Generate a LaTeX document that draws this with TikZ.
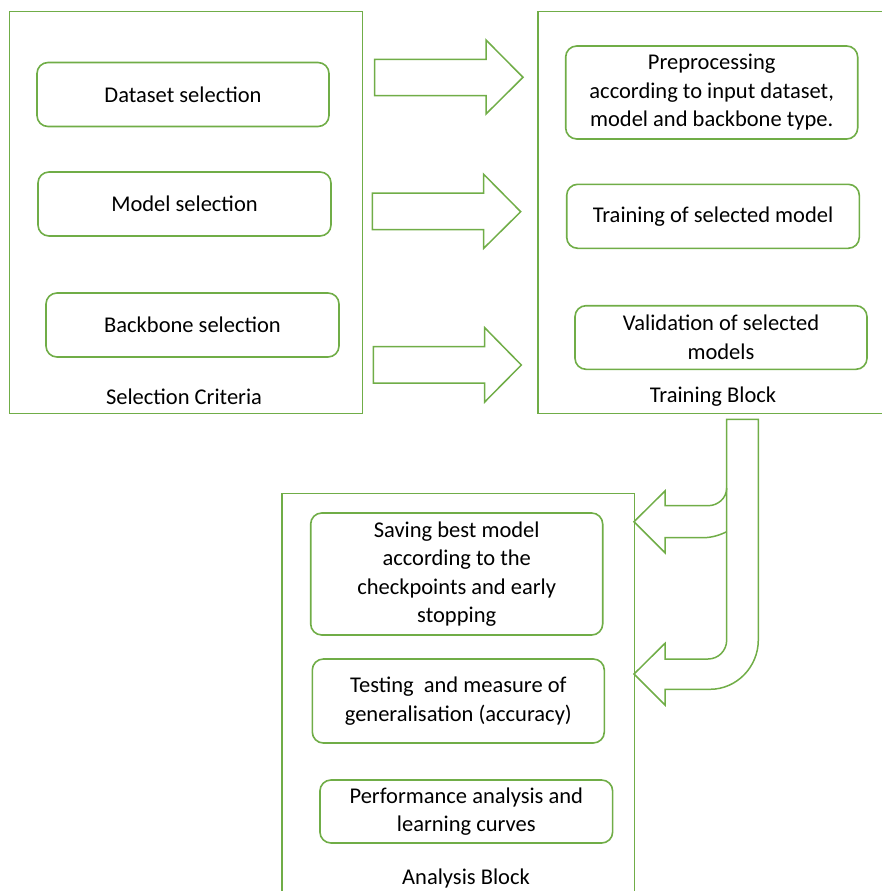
\documentclass[tikz,border=0pt]{standalone}
\usepackage{fontspec}
\setmainfont{Carlito}
\definecolor{ogreen}{HTML}{70AD47}
\begin{document}
\begin{tikzpicture}[x=1pt,y=-1pt,
  box/.style={draw=ogreen,line width=1.6pt,rounded corners=11pt,align=center,inner sep=0pt,
    font=\fontsize{22.5}{28.5}\selectfont,text=black},
  lbl/.style={font=\fontsize{22.5}{28.5}\selectfont,inner sep=0pt,text=black},
  frame/.style={draw=ogreen,line width=1.3pt},
  barrow/.style={draw=ogreen,line width=1.5pt,fill=white,line join=miter}]
\useasboundingbox (0,0) rectangle (881,891);
% frames
\draw[frame] (9.3,11.7) rectangle (362.3,413.3);
\draw[frame] (882,11.7) -- (538,11.7) -- (538,413.3) -- (882,413.3);
\draw[frame] (282,892) -- (282,493.3) -- (634.3,493.3) -- (634.3,892);
% selection boxes
\node[box,minimum width=292pt,minimum height=64pt] (ds) at (183,94.5) {Dataset selection};
\node[box,minimum width=293pt,minimum height=64pt] (ms) at (184.5,204) {Model selection};
\node[box,minimum width=293pt,minimum height=64pt] (bs) at (192.5,325) {Backbone selection};
\node[lbl] (sc) at (184,397) {Selection Criteria};
% training boxes
\node[box,minimum width=292pt,minimum height=93pt] (pp) at (711.7,92.5) {Preprocessing\\according to input dataset,\\model and backbone type.};
\node[box,minimum width=292.6pt,minimum height=64pt] (tr) at (713,216.3) {Training of selected model};
\node[box,minimum width=292pt,minimum height=63.6pt] (va) at (721,337.5) {Validation of selected\\models};
\node[lbl] (tb) at (713,396.7) {Training Block};
% analysis boxes
\node[box,minimum width=292pt,minimum height=122pt] (sv) at (456.7,574) {Saving best model\\according to the\\checkpoints and early\\stopping};
\node[box,minimum width=292pt,minimum height=84pt] (te) at (458.3,701) {Testing~ and measure of\\generalisation (accuracy)};
\node[box,minimum width=292.7pt,minimum height=63pt] (pa) at (466.3,811.5) {Performance analysis and\\learning curves};
\node[lbl] (ab) at (466,878) {Analysis Block};
% block arrows
\draw[barrow] (374.7,59.3) -- (486,59.3) -- (486,40) -- (523,77.3) -- (486,114) -- (486,95.7) -- (374.7,95.7) -- cycle;
\draw[barrow] (372.3,193) -- (483.7,193) -- (483.7,174.3) -- (520.7,211.7) -- (483.7,248.3) -- (483.7,229.7) -- (372.3,229.7) -- cycle;
\draw[barrow] (373.3,346.7) -- (484.7,346.7) -- (484.7,327.7) -- (521.3,365) -- (484.7,402) -- (484.7,383) -- (373.3,383) -- cycle;
% curved arrow
\draw[barrow,fill=none] (726.7,419.3) -- (758.3,419.3) -- (758.3,640)
  .. controls (758.3,667) and (736.6,689.3) .. (710,689.3) -- (665,689.3) -- (665,705)
  -- (634,674) -- (665,643.3) -- (665,659) -- (708,659)
  .. controls (718.5,659) and (726.7,650.5) .. (726.7,640) -- cycle;
\draw[barrow,fill=none] (726.7,488) .. controls (726.7,498) and (718,505.7) .. (708,505.7)
  -- (665,505.7) -- (665,491) -- (634,521.7) -- (665,552.7) -- (665,537.7) -- (703,537.7)
  .. controls (712,537.7) and (720,535) .. (726.7,531.7);
\end{tikzpicture}
\end{document}
